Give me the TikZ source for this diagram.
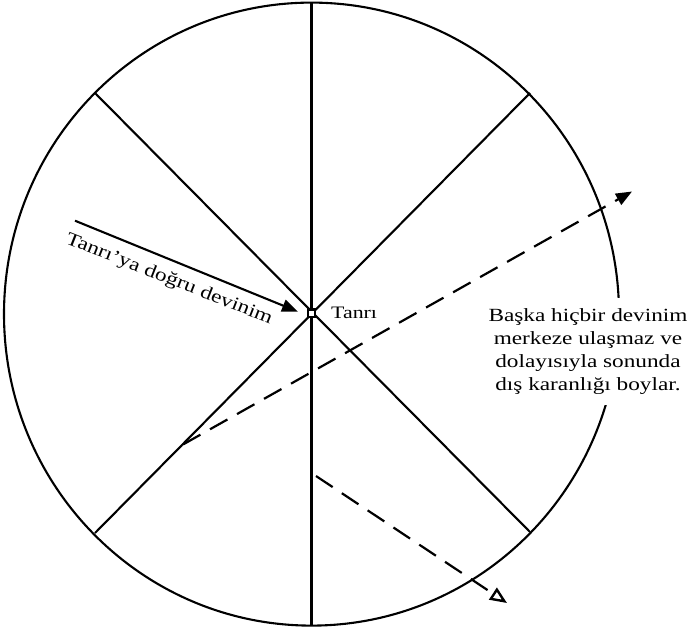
\documentclass[tikz,border=0pt]{standalone}
\usepackage{fontspec}
\setmainfont{Liberation Serif}[FakeStretch=1.25]
\usetikzlibrary{arrows.meta}
\begin{document}
\begin{tikzpicture}[x=1pt,y=-1pt,
  solidline/.style={line width=2.1pt},
  dashline/.style={line width=2.2pt, dash pattern=on 20pt off 11pt},
  filledtip/.style={-{Triangle[length=16pt,width=12.5pt]}},
  opentip/.style={-{Triangle[open,length=17pt,width=14pt,line width=2.4pt]}},
  lbl/.style={inner sep=0pt, text=black}]
\useasboundingbox (0,0) rectangle (695,632);
% outer circle
\coordinate (c) at (311.5,314.1);
\draw[solidline] (c) ellipse [x radius=307.5, y radius=311.5];
% spokes
\coordinate (top) at (311.5,2.6);
\coordinate (bot) at (311.5,625.6);
\coordinate (nw) at (95,93);
\coordinate (ne) at (530,93);
\coordinate (sw) at (95,533);
\coordinate (se) at (530,532);
\draw[solidline] (top) -- (bot);
\draw[solidline] (nw) -- (se);
\draw[solidline] (ne) -- (sw);
% centre
\node[draw, fill=white, minimum size=7.5pt, inner sep=0pt, line width=2.2pt] (god) at (311.5,313.3) {};
\node[lbl, anchor=base west, font=\fontsize{17.5}{19}\selectfont] (godlabel) at (331,318) {Tanrı};
% movement towards God
\coordinate (a0) at (75,220.7);
\coordinate (a1) at (298,311.7);
\draw[solidline, filledtip] (a0) -- (a1);
\node[lbl, rotate=-21.5, font=\fontsize{18.6}{20}\selectfont] (towards) at (169,279.5) {Tanrı’ya doğru devinim};
% other movements
\coordinate (d0) at (183,444.5);
\coordinate (d1) at (632,191.5);
\draw[dashline, filledtip] (d0) -- (d1);
\coordinate (e0) at (316,476);
\coordinate (e1) at (507,603);
\draw[dashline, opentip] (e0) -- (e1);
% right text
\node[fill=white, inner xsep=4pt, inner ysep=11pt, align=center,
      font=\fontsize{18.6}{22.8}\selectfont] (other) at (588,351.5)
  {Başka hiçbir devinim\\merkeze ulaşmaz ve\\dolayısıyla sonunda\\dış karanlığı boylar.};
\end{tikzpicture}
\end{document}
